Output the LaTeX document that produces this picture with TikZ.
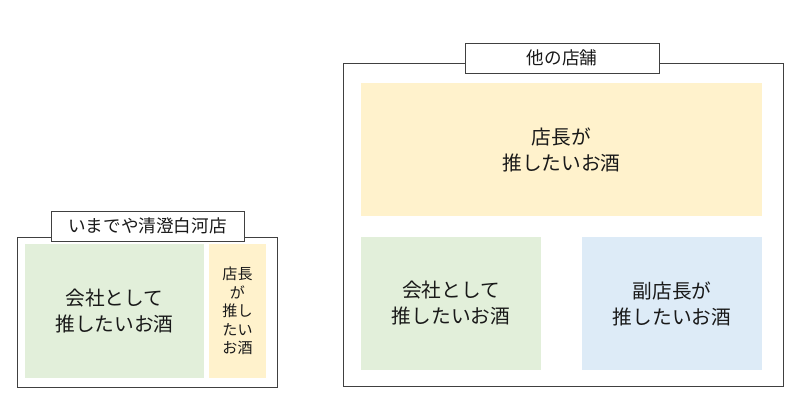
\documentclass[tikz,border=0pt]{standalone}
\usepackage{fontspec}
\setmainfont{Noto Sans CJK JP}
\usepackage{xcolor}
\usetikzlibrary{positioning}

\definecolor{sakeGreen}{HTML}{E2EFDA}
\definecolor{sakeYellow}{HTML}{FFF2CC}
\definecolor{sakeBlue}{HTML}{DDEBF7}
\definecolor{frameGray}{HTML}{404040}

\begin{document}
\begin{tikzpicture}[
    every node/.style={text=black!90},
    frame/.style={draw=frameGray, line width=0.6pt, fill=white},
    tag/.style={draw=frameGray, line width=0.6pt, fill=white, minimum height=7.5mm,
                font=\fontsize{12.5}{15}\selectfont},
    pick/.style={inner sep=0pt, minimum height=33.25mm, minimum width=45mm, align=center,
                 font=\fontsize{14}{18.5}\selectfont},
]
  \useasboundingbox (0,0) rectangle (20,-10.475);

  % imadeya shop
  \node[frame, minimum width=65mm, minimum height=37.5mm] (homeframe) at (3.675,-7.8) {};
  \node[tag, minimum width=48.25mm] (hometag) at (3.6875,-5.65) {いまでや清澄白河店};
  \node[pick, fill=sakeGreen, minimum width=44.75mm, minimum height=33.5mm]
        (homecompany) at (2.8625,-7.775) {会社として\\推したいお酒};
  \node[pick, fill=sakeYellow, minimum width=14.25mm, minimum height=33.5mm,
        font=\fontsize{10.7}{13.2}\selectfont]
        (homemanager) at (5.9375,-7.775) {店長\\が\\推し\\たい\\お酒};

  % other shops
  \node[frame, minimum width=110mm, minimum height=80.75mm] (otherframe) at (14.075,-5.6125) {};
  \node[tag, minimum width=48.5mm] (othertag) at (14.05,-1.45) {他の店舗};
  \node[pick, fill=sakeYellow, minimum width=100.25mm] (othermanager)
        at (14.0375,-3.7375) {店長が\\推したいお酒};
  \node[pick, fill=sakeGreen] (othercompany) at (11.275,-7.5875) {会社として\\推したいお酒};
  \node[pick, fill=sakeBlue] (otherdeputy) at (16.8,-7.5875) {副店長が\\推したいお酒};
\end{tikzpicture}
\end{document}
